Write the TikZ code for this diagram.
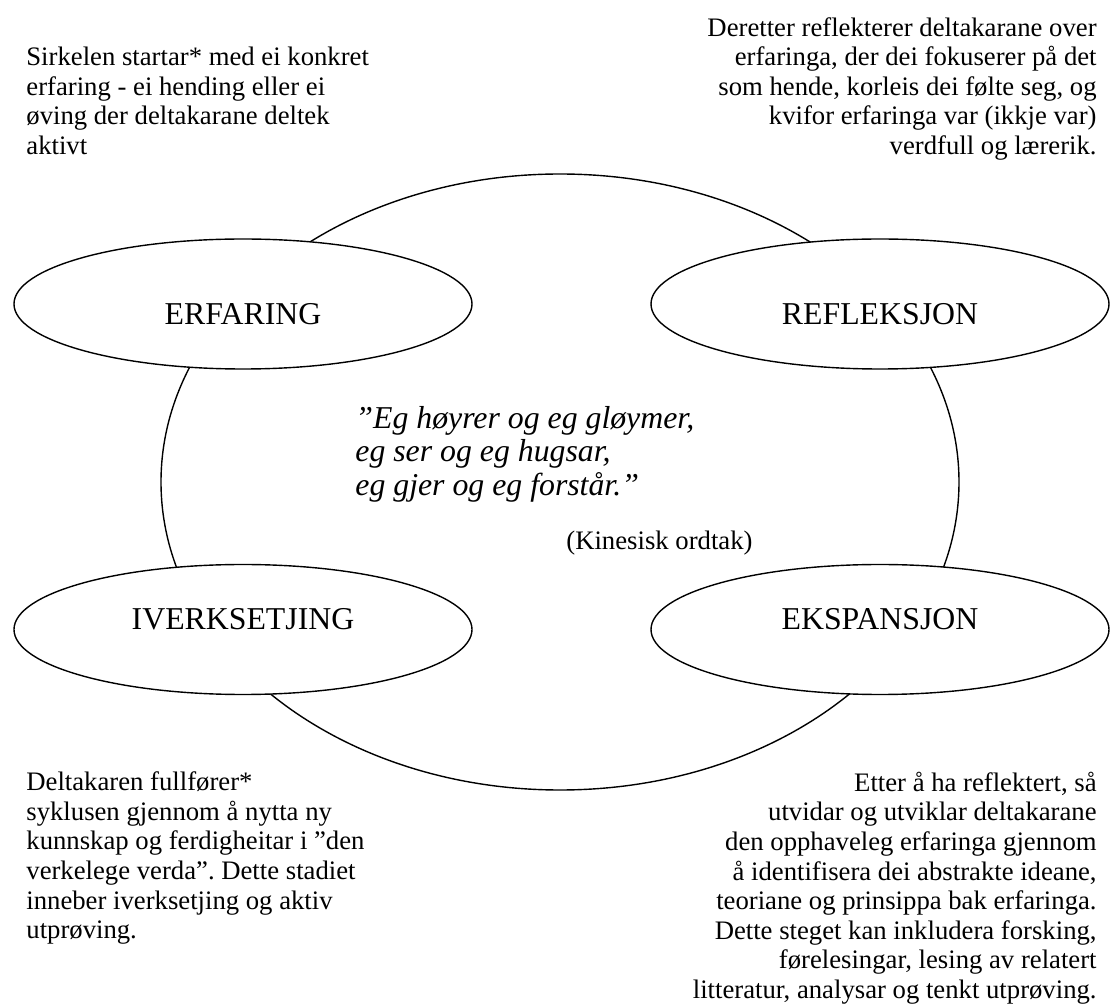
\documentclass[tikz,border=0pt]{standalone}
\usepackage{fontspec}
\setmainfont{Liberation Serif}
\usepackage{tikz}
\usetikzlibrary{shapes.geometric}
\frenchspacing

\begin{document}
\begin{tikzpicture}[
        x=0.5pt, y=-0.5pt,
        note/.style={
            inner sep=0pt,
            font=\fontsize{13.35pt}{14.8pt}\selectfont
        },
        cyclering/.style={
            draw,
            ellipse,
            line width=0.7pt,
            minimum width=399pt,
            minimum height=308pt
        },
        phase/.style={
            draw,
            fill=white,
            ellipse,
            line width=0.7pt,
            minimum width=229pt,
            minimum height=65pt,
            font=\fontsize{15.9pt}{17pt}\selectfont
        },
        phasetop/.style={phase, text height=23pt, text depth=2pt},
        phasebottom/.style={phase, text height=6pt, text depth=6pt},
        saying/.style={
            inner sep=0pt,
            align=left,
            font=\fontsize{15.9pt}{16.75pt}\selectfont\itshape
        }
    ]
        \useasboundingbox (0,0) rectangle (1110,1005);

        \node[cyclering] (cycle) at (560,482) {};

        \node[phasetop] (experience) at (243,304) {ERFARING};
        \node[phasetop] (reflection) at (880,304) {REFLEKSJON};
        \node[phasebottom] (application) at (243,629.5) {IVERKSETJING};
        \node[phasebottom] (expansion) at (880,629.5) {EKSPANSJON};

        \node[saying, anchor=north west] (proverb) at (355,406) {”Eg høyrer og eg gløymer,\\eg ser og eg hugsar,\\eg gjer og eg forstår.”};
        \node[note, anchor=base west] (source) at (566,550) {(Kinesisk ordtak)};

        \node[note, align=left, anchor=north west] (startnote) at (26,46.5) {Sirkelen startar* med ei konkret\\erfaring - ei hending eller ei\\øving der deltakarane deltek\\aktivt};
        \node[note, align=right, anchor=north east] (reflectnote) at (1097,17) {Deretter reflekterer deltakarane over\\erfaringa, der dei fokuserer på det\\som hende, korleis dei følte seg, og\\kvifor erfaringa var (ikkje var)\\verdfull og lærerik.};
        \node[note, align=left, anchor=north west] (applynote) at (26,771.5) {Deltakaren fullfører*\\syklusen gjennom å nytta ny\\kunnskap og ferdigheitar i ”den\\verkelege verda”. Dette stadiet\\inneber iverksetjing og aktiv\\utprøving.};
        \node[note, align=right, anchor=north east] (expandnote) at (1097,771.5) {Etter å ha reflektert, så\\utvidar og utviklar deltakarane\\den opphaveleg erfaringa gjennom\\å identifisera dei abstrakte ideane,\\teoriane og prinsippa bak erfaringa.\\Dette steget kan inkludera forsking,\\førelesingar, lesing av relatert\\litteratur, analysar og tenkt utprøving.};
    \end{tikzpicture}
\end{document}
